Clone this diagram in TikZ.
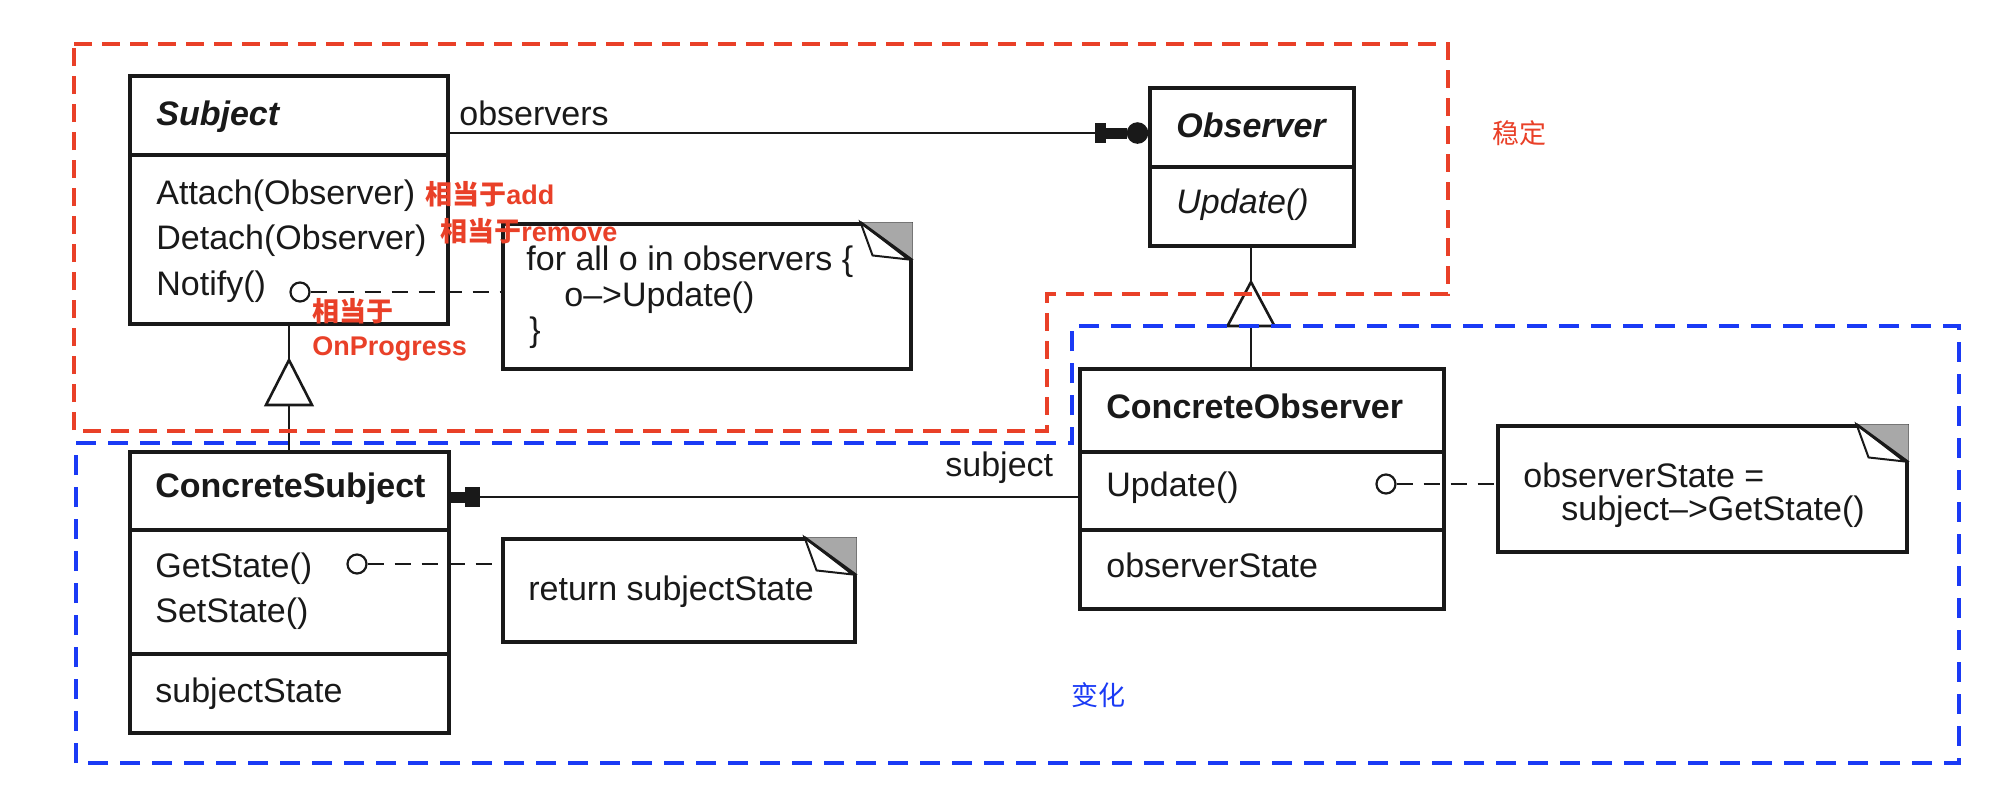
\documentclass[tikz,border=0pt]{standalone}
\usepackage{fontspec}
\setmainfont{Liberation Sans}
\newfontfamily\cjk{Noto Sans CJK SC}
\usetikzlibrary{fit}
\definecolor{stablered}{RGB}{233,64,40}
\definecolor{changeblue}{RGB}{26,58,245}
\definecolor{earshade}{RGB}{168,168,168}
\definecolor{ink}{RGB}{25,25,25}

\begin{document}
\begin{tikzpicture}[x=0.5pt,y=-0.5pt,
  umlbox/.style={draw=ink, line width=1.55pt, inner sep=0pt, rectangle},
  compart/.style={draw=ink, line width=1.55pt},
  lbl/.style={anchor=base west, inner sep=0pt, text=ink, font=\fontsize{17}{20}\selectfont},
  bolditlbl/.style={lbl, font=\fontsize{17}{20}\selectfont\bfseries\itshape},
  boldlbl/.style={lbl, font=\fontsize{17}{20}\selectfont\bfseries},
  itlbl/.style={lbl, font=\fontsize{17}{20}\selectfont\itshape},
  remark/.style={anchor=base west, inner sep=0pt, text=stablered, font=\fontsize{13.5}{16}\selectfont\bfseries},
  zonelbl/.style={anchor=base west, inner sep=0pt, font=\fontsize{13.5}{16}\selectfont\cjk},
  assoc/.style={draw=ink, line width=1.4pt},
  gen/.style={draw=ink, line width=1.3pt, fill=white},
  notelink/.style={draw=ink, line width=1.35pt, dash pattern=on 8pt off 5.5pt},
  pinend/.style={circle, draw=ink, line width=1.1pt, fill=white, minimum size=9.5pt, inner sep=0pt},
  stablezone/.style={draw=stablered, line width=2pt, dash pattern=on 9pt off 5pt},
  changezone/.style={draw=changeblue, line width=2pt, dash pattern=on 10pt off 6pt},
  dogear/.pic={
    \fill[earshade] (-52,0) -- (0,0) -- (0,38) -- cycle;
    \draw[ink, line width=1pt, fill=white] (-52,0) -- (-40,33) -- (-4,37) -- cycle;
    \draw[ink, line width=1.4pt] (-52,0) -- (0,38);
  }
]
\useasboundingbox (0,0) rectangle (2004,794);

% ---- Subject ----
\node[umlbox, fit={(130,76)(448,324)}] (subj) {};
\draw[compart] (subj.west |- 0,155) -- (subj.east |- 0,155);
\node[bolditlbl] (subjname) at (156,125) {Subject};
\node[lbl] (attach) at (156,204) {Attach(Observer)};
\node[lbl] (detach) at (156,249) {Detach(Observer)};
\node[lbl] (notify) at (156,295) {Notify()};

% ---- Observer ----
\node[umlbox, fit={(1150,88)(1354,246)}] (obs) {};
\draw[compart] (obs.west |- 0,167) -- (obs.east |- 0,167);
\node[bolditlbl] (obsname) at (1176,137) {Observer};
\node[itlbl] (obsupdate) at (1176,213) {Update()};

% ---- ConcreteSubject ----
\node[umlbox, fit={(130,452)(449,733)}] (csub) {};
\draw[compart] (csub.west |- 0,530) -- (csub.east |- 0,530);
\draw[compart] (csub.west |- 0,654) -- (csub.east |- 0,654);
\node[boldlbl] (csubname) at (155,497) {ConcreteSubject};
\node[lbl] (getstate) at (155,577) {GetState()};
\node[lbl] (setstate) at (155,622) {SetState()};
\node[lbl] (substate) at (155,702) {subjectState};

% ---- ConcreteObserver ----
\node[umlbox, fit={(1080,369)(1444,609)}] (cobs) {};
\draw[compart] (cobs.west |- 0,452) -- (cobs.east |- 0,452);
\draw[compart] (cobs.west |- 0,530) -- (cobs.east |- 0,530);
\node[boldlbl] (cobsname) at (1106,418) {ConcreteObserver};
\node[lbl] (cobsupdate) at (1106,496) {Update()};
\node[lbl] (obsstate) at (1106,577) {observerState};

% ---- notes ----
\node[umlbox, fit={(503,224)(911,369)}] (note1) {};
\pic at (note1.north east) {dogear};
\node[lbl] (n1a) at (526,270) {for all o in observers \{};
\node[lbl] (n1b) at (564,306) {o–>Update()};
\node[lbl] (n1c) at (529,341) {\}};

\node[umlbox, fit={(1498,426)(1907,552)}] (note2) {};
\pic at (note2.north east) {dogear};
\node[lbl] (n2a) at (1523,487) {observerState =};
\node[lbl] (n2b) at (1561,520) {subject–>GetState()};

\node[umlbox, fit={(503,539)(855,642)}] (note3) {};
\pic at (note3.north east) {dogear};
\node[lbl] (n3a) at (528,600) {return subjectState};

% ---- note attachments ----
\node[pinend] (pin1) at (300,292) {};
\draw[notelink] (pin1.east) -- (pin1 -| note1.west);
\node[pinend] (pin2) at (357,564) {};
\draw[notelink] (pin2.east) -- (pin2 -| note3.west);
\node[pinend] (pin3) at (1386,484) {};
\draw[notelink] (pin3.east) -- (pin3 -| note2.west);

% ---- association: observers ----
\coordinate (obsin) at (1150,133);
\draw[assoc] (subj.east |- obsin) -- (obsin);
\begin{scope}[shift={(obsin)}]
  \fill[ink] (-55,-10) rectangle (-44,10);
  \fill[ink] (-45,-5.5) rectangle (-23,5.5);
  \fill[ink] (-12.5,0) circle[radius=5.4pt];
\end{scope}
\node[lbl] (obslabel) at (459,125) {observers};

% ---- association: subject ----
\coordinate (subin) at (449,497);
\draw[assoc] (cobs.west |- subin) -- (subin);
\begin{scope}[shift={(subin)}]
  \fill[ink] (1,-5.5) rectangle (16,5.5);
  \fill[ink] (16,-10) rectangle (31,10);
\end{scope}
\node[lbl] (sublabel) at (945,476) {subject};

% ---- generalisations ----
\coordinate (apex1) at (289,360);
\coordinate (base1) at (289,405);
\draw[assoc] (apex1 |- subj.south) -- (apex1);
\draw[assoc] (base1) -- (base1 |- csub.north);
\draw[gen] (apex1) -- ++(23,45) -- ++(-46,0) -- cycle;

\coordinate (apex2) at (1251,282);
\coordinate (base2) at (1251,326);
\draw[assoc] (apex2 |- obs.south) -- (apex2);
\draw[assoc] (base2) -- (base2 |- cobs.north);
\draw[gen] (apex2) -- ++(23.5,44) -- ++(-47,0) -- cycle;

% ---- remarks ----
\node[remark] (addnote) at (425,204) {{\cjk 相当于}add};
\node[remark] (removenote) at (440,241) {{\cjk 相当于}remove};
\node[remark] (prognote) at (312,321) {{\cjk 相当于}};
\node[remark] (progname) at (312,355) {OnProgress};

% ---- zones ----
\draw[stablezone] (74,44) -- (1448,44) -- (1448,294) -- (1047,294) -- (1047,431) -- (74,431) -- cycle;
\draw[changezone] (76,443) -- (1072,443) -- (1072,326) -- (1959,326) -- (1959,763) -- (76,763) -- cycle;
\node[zonelbl, text=stablered] (stable) at (1492,143) {稳定};
\node[zonelbl, text=changeblue] (change) at (1071,705) {变化};
\end{tikzpicture}
\end{document}
